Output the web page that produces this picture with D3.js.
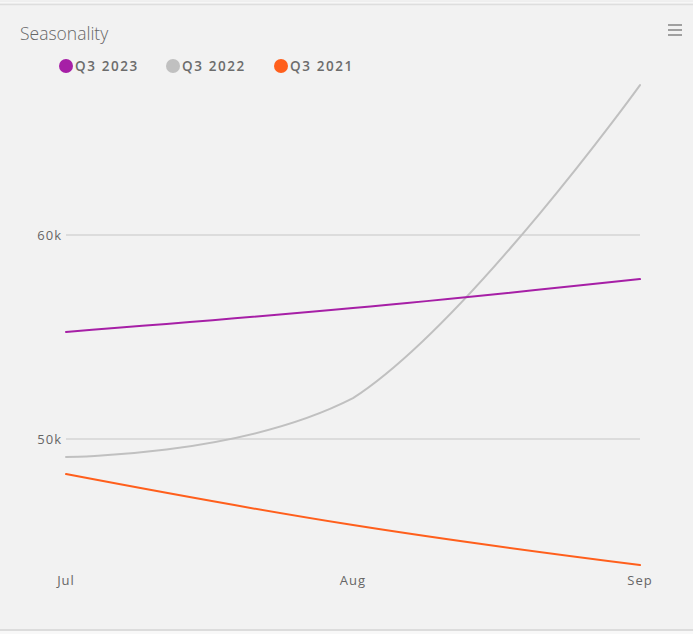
<!DOCTYPE html>
<html><head><meta charset="utf-8">
<script src="https://cdn.jsdelivr.net/npm/d3@7"></script>
<style>
html,body{margin:0;padding:0;background:#fff;}
svg{display:block;}
text{font-family:"Open Sans",sans-serif;}
</style></head>
<body>
<script>
const months = ["Jul","Aug","Sep"];
const seriesNames = ["Q3 2023","Q3 2022","Q3 2021"];
const seriesColors = ["#a61fa6","#c0c0c0","#ff5f1c"];
const q3_2023 = [55250, 56420, 57840];
const q3_2022 = [49120, 52000, 67350];
const q3_2021 = [48280, 45780, 43820];
const yTicks = [50000, 60000];
const allSeries = [q3_2023, q3_2022, q3_2021];

const W = 693, H = 634;
const svg = d3.select("body").append("svg").attr("width", W).attr("height", H);

// background & borders
svg.append("rect").attr("x",0).attr("y",0).attr("width",W).attr("height",H).attr("fill","#f2f2f2");
svg.append("rect").attr("x",0).attr("y",0).attr("width",W).attr("height",3).attr("fill","#f7f7f7");
svg.append("line").attr("x1",0).attr("x2",W).attr("y1",1).attr("y2",1).attr("stroke","#e8e8e8");
svg.append("line").attr("x1",0).attr("x2",W).attr("y1",4.5).attr("y2",4.5).attr("stroke","#dedede").attr("stroke-width",1.5);
svg.append("line").attr("x1",0).attr("x2",W).attr("y1",630).attr("y2",630).attr("stroke","#dcdcdc").attr("stroke-width",2);
svg.append("rect").attr("x",0).attr("y",631).attr("width",W).attr("height",3).attr("fill","#f8f8f8");

const x = d3.scalePoint().domain(months).range([66, 640]);
const y = d3.scaleLinear().domain([50000, 60000]).range([439, 235]);

// title
svg.append("text").attr("x",20).attr("y",40).attr("font-size",17.5).attr("fill","#666")
  .attr("font-weight",300).text("Seasonality");

// hamburger
[25,30,35].forEach(yy=>{
  svg.append("line").attr("x1",668).attr("x2",682).attr("y1",yy).attr("y2",yy)
    .attr("stroke","#a0a0a0").attr("stroke-width",2);
});

// legend
const legendX = [66, 173, 281];
seriesNames.forEach((n,i)=>{
  svg.append("circle").attr("cx",legendX[i]).attr("cy",66).attr("r",7).attr("fill",seriesColors[i]);
  svg.append("text").attr("x",legendX[i]+9).attr("y",71).attr("font-size",13.5)
    .attr("font-weight",600).attr("letter-spacing",1.6).attr("fill","#6c6c6c").text(n);
});

// grid
svg.append("g").selectAll("line").data(yTicks).join("line")
  .attr("x1",66).attr("x2",640).attr("y1",d=>y(d)).attr("y2",d=>y(d))
  .attr("stroke","#d4d4d4").attr("stroke-width",1.5);
svg.append("g").selectAll("text").data(yTicks).join("text")
  .attr("x",62).attr("y",d=>y(d)+5).attr("text-anchor","end").attr("font-size",13)
  .attr("letter-spacing",1).attr("fill","#666").text(d=>(d/1000)+"k");

// x labels
svg.append("g").selectAll("text").data(months).join("text")
  .attr("x",d=>x(d)).attr("y",585).attr("text-anchor","middle").attr("font-size",13)
  .attr("letter-spacing",1).attr("fill","#666").text(d=>d);

// spline (Highcharts-style control points, clamped independently on each side)
function splinePath(pts){
  const sm = 1.5, den = sm + 1;
  const cps = pts.map((p,i)=>{
    if(i===0||i===pts.length-1) return null;
    const l = pts[i-1], n = pts[i+1];
    let lcx=(sm*p[0]+l[0])/den, lcy=(sm*p[1]+l[1])/den;
    let rcx=(sm*p[0]+n[0])/den, rcy=(sm*p[1]+n[1])/den;
    if(rcx!==lcx){
      const c=((rcy-lcy)*(rcx-p[0]))/(rcx-lcx)+p[1]-rcy;
      lcy+=c; rcy+=c;
      lcy = Math.min(Math.max(lcy, Math.min(l[1],p[1])), Math.max(l[1],p[1]));
      rcy = Math.min(Math.max(rcy, Math.min(n[1],p[1])), Math.max(n[1],p[1]));
    }
    return {lcx,lcy,rcx,rcy};
  });
  let d = "M"+pts[0][0]+","+pts[0][1];
  for(let i=1;i<pts.length;i++){
    const a = cps[i-1], b = cps[i];
    const c1x = a? a.rcx : pts[i-1][0], c1y = a? a.rcy : pts[i-1][1];
    const c2x = b? b.lcx : pts[i][0], c2y = b? b.lcy : pts[i][1];
    d += "C"+c1x+","+c1y+" "+c2x+","+c2y+" "+pts[i][0]+","+pts[i][1];
  }
  return d;
}

// draw order: 2021, 2022, 2023 on top
[2,1,0].forEach(i=>{
  const pts = months.map((m,j)=>[x(m), y(allSeries[i][j])]);
  svg.append("path").attr("d",splinePath(pts)).attr("fill","none")
    .attr("stroke",seriesColors[i]).attr("stroke-width",2).attr("stroke-linecap","round");
});
</script>
</body></html>
